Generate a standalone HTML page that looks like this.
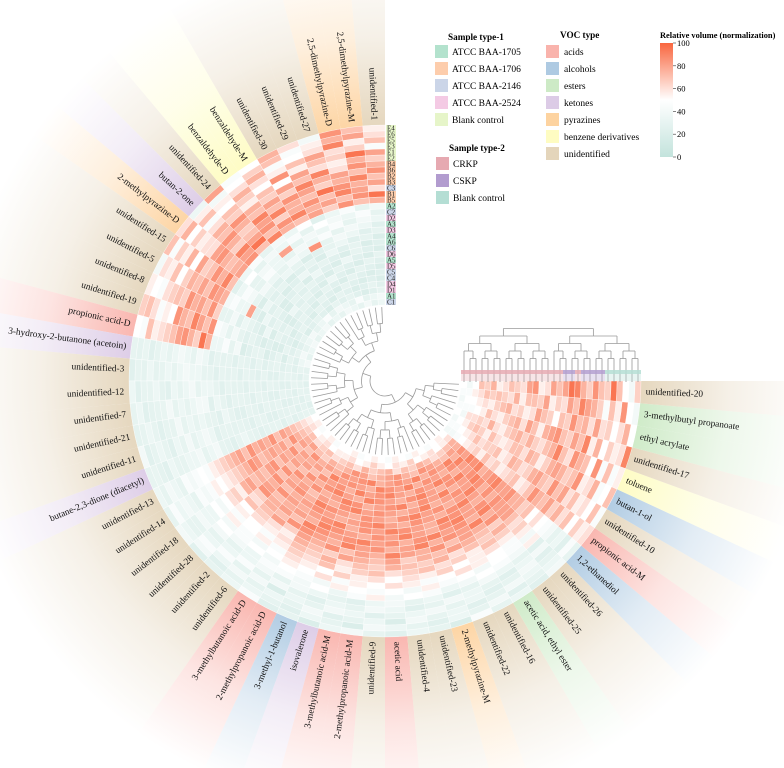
<!DOCTYPE html>
<html><head><meta charset="utf-8"><title>Circular heatmap</title>
<style>
html,body{margin:0;padding:0;background:#fff;width:784px;height:768px;overflow:hidden;}
svg{display:block;font-family:"Liberation Serif",serif;overflow:hidden;}
</style></head>
<body>
<svg id="chart" width="784" height="768" viewBox="0 0 784 768" xmlns="http://www.w3.org/2000/svg">
<defs id="defs"><clipPath id="frameclip"><rect x="0" y="0" width="784" height="768"/></clipPath></defs>
<g id="wedges" clip-path="url(#frameclip)"></g>
<g id="cells"></g>
<g id="labels"></g>
<g id="coldendro"></g>
<g id="rowdendro"></g>
<g id="samplelabels"></g>
<g id="legend">
  <text x="448" y="40" font-size="9.2" font-weight="bold">Sample type-1</text>
  <rect x="435" y="45" width="13" height="13" fill="#b3e2cd"/>
  <text x="452" y="55" font-size="9.5">ATCC BAA-1705</text>
  <rect x="435" y="62" width="13" height="13" fill="#fdcdac"/>
  <text x="452" y="72" font-size="9.5">ATCC BAA-1706</text>
  <rect x="435" y="79" width="13" height="13" fill="#cbd5e8"/>
  <text x="452" y="89" font-size="9.5">ATCC BAA-2146</text>
  <rect x="435" y="96" width="13" height="13" fill="#f4cae4"/>
  <text x="452" y="106" font-size="9.5">ATCC BAA-2524</text>
  <rect x="435" y="113" width="13" height="13" fill="#e6f5c9"/>
  <text x="452" y="123" font-size="9.5">Blank control</text>

  <text x="449" y="151" font-size="9.2" font-weight="bold">Sample type-2</text>
  <rect x="436" y="157" width="13" height="13" fill="#e6a9b1"/>
  <text x="453" y="167" font-size="9.5">CRKP</text>
  <rect x="436" y="174" width="13" height="13" fill="#b29ccf"/>
  <text x="453" y="184" font-size="9.5">CSKP</text>
  <rect x="436" y="191" width="13" height="13" fill="#b4ded4"/>
  <text x="453" y="201" font-size="9.5">Blank control</text>

  <text x="560" y="38" font-size="9.2" font-weight="bold">VOC type</text>
  <g id="voclegend"></g>

  <text x="660" y="38" font-size="8.4" font-weight="bold">Relative volume (normalization)</text>
  <rect x="660" y="43" width="13" height="114" fill="url(#cbgrad)"/>
  <g id="cbticks"></g>
</g>
</svg>
<script>
// ---------- data ----------
const vocNames = ["unidentified-1","2,5-dimethylpyrazine-M","2,5-dimethylpyrazine-D","unidentified-27","unidentified-29","unidentified-30","benzaldehyde-M","benzaldehyde-D","unidentified-24","butan-2-one","2-methylpyrazine-D","unidentified-15","unidentified-5","unidentified-8","unidentified-19","propionic acid-D","3-hydroxy-2-butanone (acetoin)","unidentified-3","unidentified-12","unidentified-7","unidentified-21","unidentified-11","butane-2,3-dione (diacetyl)","unidentified-13","unidentified-14","unidentified-18","unidentified-28","unidentified-2","unidentified-6","3-methylbutanoic acid-D","2-methylpropanoic acid-D","3-methyl-1-butanol","isovalerone","3-methylbutanoic acid-M","2-methylpropanoic acid-M","unidentified-9","acetic acid","unidentified-4","unidentified-23","2-methylpyrazine-M","unidentified-22","unidentified-16","acetic acid, ethyl ester","unidentified-25","unidentified-26","1,2-ethanediol","propionic acid-M","unidentified-10","butan-1-ol","toluene","unidentified-17","ethyl acrylate","3-methylbutyl propanoate","unidentified-20"];
const vocTypes = ["U","P","P","U","U","U","B","B","U","K","P","U","U","U","U","A","K","U","U","U","U","U","K","U","U","U","U","U","U","A","A","L","K","A","A","U","A","U","U","P","U","U","E","U","U","L","A","U","L","B","U","E","E","U"];
const sampleNames = ["E4","E6","E5","E3","E1","E2","B4","B6","B2","B3","C3","B1","B5","A2","C2","D2","A3","D3","A4","A6","C6","D6","A5","D5","C5","C4","D4","D1","A1","C1"];
const sampleType2 = ["blank","blank","blank","blank","blank","blank","CSKP","CSKP","CSKP","CSKP","CRKP","CSKP","CSKP","CRKP","CRKP","CRKP","CRKP","CRKP","CRKP","CRKP","CRKP","CRKP","CRKP","CRKP","CRKP","CRKP","CRKP","CRKP","CRKP","CRKP"];
const colorTicks = [0,20,40,60,80,100];
const values = [
[55,70,85,40,60,75,50,45,80,35,60,70,40,55,65,50, 30,25,35,30,28,40,30, 35,30,40,25,30,35,45, 25,30,20,35,40,30,25,35,30,20,45,30,35,25,40,30, 60,45,70,55,90,50,40,65],
[60,80,75,55,45,70,65,50,40,55,75,45,60,50,70,45, 28,30,25,35,30,25,32, 30,45,35,40,25,30,35, 30,25,35,30,20,40,35,30,25,35,30,40,25,30,35,45, 55,70,50,45,60,75,50,40],
[70,55,90,60,50,45,75,60,55,70,50,65,55,45,60,70, 32,28,30,25,35,30,28, 40,35,30,45,35,40,30, 35,30,40,25,30,35,20,40,30,35,25,30,40,35,30,25, 65,50,45,70,55,60,85,50],
[45,65,60,80,70,55,60,75,50,45,65,55,70,60,45,55, 25,35,30,28,30,35,25, 35,40,30,35,45,30,40, 20,35,30,40,35,25,30,35,40,30,35,25,30,40,25,35, 50,60,75,45,65,50,55,70],
[80,95,65,70,55,85,50,65,70,60,55,75,50,65,55,60, 30,28,35,30,25,30,35, 30,35,40,30,35,45,30, 40,30,25,35,30,40,35,25,30,40,35,30,25,35,40,30, 70,55,60,85,50,65,70,95],
[65,75,55,60,80,50,70,55,65,75,60,50,65,70,50,65, 35,30,28,32,30,25,30, 45,30,35,40,30,35,40, 30,40,35,30,25,35,40,30,35,25,30,40,35,30,25,40, 60,70,55,50,75,60,45,65],
[75,85,60,90,70,80,65,75,85,70,60,80,75,65,85,70, 30,35,25,40,30,35,30, 40,45,35,50,40,35,45, 45,40,50,35,45,55,40,50,45,35,40,50,45,40,55,45, 75,60,85,70,55,80,65,70],
[85,70,80,75,90,65,80,70,75,85,80,65,70,85,75,80, 35,30,35,30,40,30,35, 45,40,50,40,45,50,40, 50,45,40,55,50,45,50,40,55,45,50,40,50,45,40,50, 65,80,70,75,90,60,75,85],
[70,90,75,65,80,85,70,90,65,75,85,70,80,75,70,85, 40,35,30,35,30,40,35, 50,45,40,55,45,40,50, 55,50,60,45,55,50,60,55,45,50,60,55,50,45,55,60, 80,70,65,85,70,75,80,65],
[80,75,85,95,70,75,90,80,70,65,75,85,70,80,90,75, 35,40,35,30,35,30,40, 45,55,50,45,50,55,45, 60,55,50,65,55,60,50,60,55,65,50,55,60,55,65,50, 70,85,75,60,80,70,90,75],
[60,80,90,70,85,75,65,85,80,90,70,75,85,70,80,65, 30,35,40,35,30,35,30, 55,50,60,55,50,45,55, 65,60,70,55,65,70,60,65,70,60,65,55,70,65,60,70, 75,65,80,70,65,85,70,90],
[95,85,70,80,75,90,85,70,95,80,75,90,80,85,70,95, 40,35,30,40,35,40,35, 60,55,65,50,60,55,60, 70,65,75,60,70,65,75,70,65,75,60,70,65,75,70,65, 85,70,75,90,70,65,80,95],
[75,70,85,65,80,70,75,90,70,85,80,70,75,65,85,75, 35,30,35,40,30,35,40, 65,60,55,70,65,60,55, 75,70,65,80,75,70,80,65,75,70,80,75,70,65,80,75, 70,80,65,75,85,70,60,80],
[40,30,45,35,25,50,35,40,30,45,35,25,40,30,45,35, 25,30,35,25,30,25,30, 70,65,75,60,70,80,65, 80,75,85,70,80,75,90,80,75,85,70,80,75,85,80,75, 60,75,55,70,80,50,65,70],
[30,45,35,40,50,30,45,35,40,30,50,35,45,30,40,35, 30,25,30,35,25,30,28, 75,70,80,65,75,70,85, 85,80,75,90,80,85,75,80,90,75,85,80,90,75,80,85, 55,65,70,60,75,65,55,80],
[35,40,30,45,35,40,30,80,35,40,30,45,35,40,30,45, 28,30,25,30,35,30,25, 80,75,70,85,75,80,70, 90,85,80,85,90,80,85,75,85,90,80,85,75,90,85,80, 70,60,75,65,55,70,80,60],
[25,35,40,30,45,35,40,30,35,45,30,40,35,25,40,30, 30,28,30,25,30,28,30, 70,85,75,80,70,75,80, 75,90,85,80,75,85,80,90,80,75,85,90,80,85,75,80, 65,70,60,75,70,80,65,55],
[30,25,35,40,30,85,35,40,30,35,40,30,80,35,30,40, 25,30,28,30,25,30,35, 85,80,70,75,85,80,75, 80,85,90,75,85,80,90,85,80,75,90,85,80,75,85,90, 60,75,70,65,80,60,70,85],
[20,30,25,35,30,25,20,30,35,25,30,20,25,30,25,20, 30,25,28,30,25,28,30, 75,70,80,85,70,75,80, 85,80,75,80,85,90,80,75,85,80,75,85,90,80,75,85, 55,60,70,75,60,55,70,80],
[25,20,30,25,35,20,30,25,20,30,25,35,20,25,30,25, 28,30,25,28,30,25,28, 80,75,85,70,80,85,75, 90,85,80,75,85,80,75,85,90,80,85,75,80,90,85,80, 65,55,60,70,75,65,55,60],
[20,25,30,20,25,30,25,35,25,20,30,25,35,20,25,30, 25,28,30,25,28,30,25, 75,80,70,85,75,80,70, 80,75,85,90,80,85,80,75,80,90,75,80,85,80,90,75, 60,70,55,65,70,60,75,65],
[30,20,25,35,20,25,35,20,30,25,20,30,25,35,20,30, 30,25,28,30,25,30,28, 85,75,80,70,85,75,85, 75,80,90,85,75,80,85,90,75,85,80,90,75,80,85,90, 70,65,60,55,65,75,60,70],
[25,30,20,25,30,20,25,30,25,30,20,25,30,20,25,20, 25,30,25,28,30,25,30, 70,80,75,80,70,85,75, 85,90,80,75,90,85,80,75,85,90,80,75,85,90,80,85, 55,65,70,60,55,70,65,60],
[20,25,30,20,25,35,20,25,30,25,35,20,25,30,20,25, 28,25,30,25,28,25,30, 80,70,85,75,80,70,85, 80,85,75,90,80,85,90,80,75,85,80,90,85,75,80,90, 65,60,55,75,60,65,70,55],
[25,20,25,30,20,25,30,20,25,30,25,20,30,25,20,30, 30,25,28,25,30,28,25, 75,85,70,80,75,80,70, 90,80,85,80,75,90,85,80,90,75,85,80,75,85,90,80, 60,70,65,60,70,55,65,75],
[20,25,20,25,30,20,25,30,20,25,30,25,20,25,30,20, 25,28,25,30,25,28,30, 70,75,80,70,85,75,80, 75,85,80,85,90,75,80,85,80,90,75,85,80,90,75,85, 55,60,70,65,55,60,70,65],
[25,30,25,20,25,30,20,25,30,20,25,30,25,20,25,30, 28,30,25,28,25,30,25, 65,70,75,80,70,65,75, 70,75,85,80,70,75,80,85,75,70,85,80,75,70,80,75, 50,55,65,60,50,55,60,70],
[30,25,20,25,30,25,30,20,25,30,25,20,30,25,30,25, 25,28,30,25,28,25,28, 60,65,70,60,65,70,60, 65,70,60,75,65,70,75,60,70,65,75,70,60,65,70,75, 45,50,55,60,45,50,55,50],
[40,35,30,45,30,35,40,30,45,35,30,40,35,30,40,35, 30,25,28,30,25,28,30, 55,60,50,55,60,50,55, 55,60,50,55,65,55,50,60,55,65,50,55,60,50,55,60, 40,45,50,40,45,50,45,40],
[35,30,40,30,35,40,30,35,30,40,35,30,40,35,30,40, 28,30,25,28,30,25,28, 50,55,45,50,55,45,50, 50,55,45,50,55,50,45,55,50,45,55,50,45,50,55,50, 40,45,40,50,45,40,45,50]
];
// ---------- styling maps ----------
const typeColor = {A:"#f9b3ac",L:"#aecae2",E:"#cdeac6",K:"#dccbe6",P:"#fdd3a0",B:"#fefcc2",U:"#e4d5bb"};
const vocLegend = [["A","acids"],["L","alcohols"],["E","esters"],["K","ketones"],["P","pyrazines"],["B","benzene derivatives"],["U","unidentified"]];
const type1Color = {A:"#b3e2cd",B:"#fdcdac",C:"#cbd5e8",D:"#f4cae4",E:"#e6f5c9"};
const type2Color = {CRKP:"#e6a9b1",CSKP:"#b29ccf",blank:"#b4ded4"};
const NS="http://www.w3.org/2000/svg";
const cx=385, cy=381, R0=256, ringW=6, angStep=5, rInnerLeaf=74;
function el(tag,attrs,parent){const e=document.createElementNS(NS,tag);for(const k in attrs)e.setAttribute(k,attrs[k]);if(parent)parent.appendChild(e);return e;}
function angleOf(i){return 90+i*angStep;}
function pt(r,a){const t=a*Math.PI/180;return [cx+r*Math.cos(t),cy-r*Math.sin(t)];}
function sector(r1,r2,a1,a2){const [x1,y1]=pt(r2,a1),[x2,y2]=pt(r2,a2),[x3,y3]=pt(r1,a2),[x4,y4]=pt(r1,a1);const lg=(a2-a1)>180?1:0;return `M${x1.toFixed(2)},${y1.toFixed(2)} A${r2},${r2} 0 ${lg} 0 ${x2.toFixed(2)},${y2.toFixed(2)} L${x3.toFixed(2)},${y3.toFixed(2)} A${r1},${r1} 0 ${lg} 1 ${x4.toFixed(2)},${y4.toFixed(2)} Z`;}
function hex(c){return [parseInt(c.slice(1,3),16),parseInt(c.slice(3,5),16),parseInt(c.slice(5,7),16)];}
const lowC=hex("#c3e3dc"), midC=hex("#ffffff"), highC=hex("#f9663f");
function colorScale(v){let a,b,t;if(v<50){a=lowC;b=midC;t=v/50;}else{a=midC;b=highC;t=(v-50)/50;}t=Math.max(0,Math.min(1,t));return `rgb(${a.map((x,i)=>Math.round(x+(b[i]-x)*t)).join(",")})`;}
const defs=document.getElementById("defs");
for(const k in typeColor){
  const g=el("radialGradient",{id:"wg"+k,gradientUnits:"userSpaceOnUse",cx:cx,cy:cy,r:430},defs);
  el("stop",{offset:(R0/430).toFixed(3),"stop-color":typeColor[k],"stop-opacity":"0.95"},g);
  el("stop",{offset:"0.8","stop-color":typeColor[k],"stop-opacity":"0.35"},g);
  el("stop",{offset:"1","stop-color":typeColor[k],"stop-opacity":"0"},g);
}
const cb=el("linearGradient",{id:"cbgrad",x1:0,y1:1,x2:0,y2:0},defs);
[0,25,50,75,100].forEach(v=>el("stop",{offset:v+"%","stop-color":colorScale(v)},cb));
const wedges=document.getElementById("wedges"), labels=document.getElementById("labels");
vocNames.forEach((name,i)=>{
  const a1=angleOf(i), a2=angleOf(i+1), am=(a1+a2)/2;
  const w=el("path",{d:sector(R0,430,a1,a2),fill:`url(#wg${vocTypes[i]})`},wedges);
  
  
  const [x,y]=pt(261,am);
  const left = am>90 && am<270;
  const rot = left ? 180-am : -am;
  const t=el("text",{x:x.toFixed(2),y:y.toFixed(2),"font-size":"9.3","text-anchor":left?"end":"start","dominant-baseline":"central",transform:`rotate(${rot.toFixed(2)} ${x.toFixed(2)} ${y.toFixed(2)})`,fill:"#111"},labels);
  t.textContent=name;
  
  
});
const cells=document.getElementById("cells");
values.forEach((row,k)=>{
  const r2=R0-k*ringW, r1=r2-ringW;
  vocNames.forEach((n,i)=>{
    const c=el("path",{d:sector(r1,r2,angleOf(i),angleOf(i+1)),fill:colorScale(row[i]),stroke:"#fff","stroke-width":"0.35"},cells);
    
    
  });
});
const cd=document.getElementById("coldendro");
function build(lo,hi){if(lo===hi)return {a:angleOf(lo)+angStep/2,h:0};const m=Math.floor((lo+hi)/2);const l=build(lo,m),r=build(m+1,hi);return {l,r,a:(l.a+r.a)/2,h:Math.max(l.h,r.h)+1};}
const ctree=build(0,vocNames.length-1);
function rad(n){return n.h===0?rInnerLeaf:rInnerLeaf-8-n.h*8.5;}
function drawC(n){if(n.h===0)return;const rp=rad(n);[n.l,n.r].forEach(ch=>{const rc=rad(ch);const [x1,y1]=pt(rp,ch.a),[x2,y2]=pt(rc,ch.a);const ln=el("line",{x1,y1,x2,y2,stroke:"#9a9a9a","stroke-width":"0.8"},cd);drawC(ch);});
 const [ax,ay]=pt(rp,n.l.a),[bx,by]=pt(rp,n.r.a);const lg=(n.r.a-n.l.a)>180?1:0;const p=el("path",{d:`M${ax},${ay} A${rp},${rp} 0 ${lg} 0 ${bx},${by}`,fill:"none",stroke:"#9a9a9a","stroke-width":"0.8"},cd);}
drawC(ctree);
const rd=document.getElementById("rowdendro");
const nS=sampleNames.length, x0=cx+R0-nS*ringW, leafY=372;
function xOfRing(k){return x0+(nS-1-k)*ringW+ringW/2;}
function buildR(lo,hi){if(lo===hi)return {x:xOfRing(lo),h:0};const m=Math.floor((lo+hi)/2);const l=buildR(lo,m),r=buildR(m+1,hi);return {l,r,x:(l.x+r.x)/2,h:Math.max(l.h,r.h)+1};}
const rtree=buildR(0,nS-1);
function yOf(n){return n.h===0?leafY+10:leafY-6-n.h*7.5;}
function drawR(n){if(n.h===0)return;const yp=yOf(n);[n.l,n.r].forEach(ch=>{const ln=el("line",{x1:ch.x,y1:yp,x2:ch.x,y2:yOf(ch),stroke:"#9a9a9a","stroke-width":"0.8"},rd);drawR(ch);});const hl=el("line",{x1:n.l.x,y1:yp,x2:n.r.x,y2:yp,stroke:"#9a9a9a","stroke-width":"0.8"},rd);}
drawR(rtree);
sampleNames.forEach((s,k)=>{
  const x=xOfRing(k)-ringW/2;
  const a=el("rect",{x,y:leafY-2,width:ringW,height:4,fill:type2Color[sampleType2[k]],opacity:"0.85"},rd);
  
  
  const b=el("rect",{x,y:leafY+2,width:ringW,height:7,fill:type2Color[sampleType2[k]],opacity:"0.3"},rd);
  
  
});
const sl=document.getElementById("samplelabels");
sampleNames.forEach((s,k)=>{
  const yc=cy-(R0-k*ringW-ringW/2);
  const r=el("rect",{x:cx+1,y:yc-3,width:10,height:6,fill:type1Color[s[0]]},sl);
  
  
  const t=el("text",{x:cx+2,y:yc+0.3,"font-size":"7","dominant-baseline":"central",fill:"#222"},sl);
  t.textContent=s;
  
  
});
const vl=document.getElementById("voclegend");
vocLegend.forEach(([k,lab],j)=>{
  const y=45+j*17;
  const r=el("rect",{x:546,y,width:13,height:13,fill:typeColor[k]},vl);
  
  
  const t=el("text",{x:564,y:y+10,"font-size":"9.5"},vl);
  t.textContent=lab;
  
  
});
const ct=document.getElementById("cbticks");
colorTicks.forEach(v=>{
  const y=157-v/100*114;
  const l=el("line",{x1:673,y1:y,x2:676,y2:y,stroke:"#333","stroke-width":"0.6"},ct);
  
  
  const t=el("text",{x:677,y:y+3,"font-size":"8.5"},ct);
  t.textContent=v;
  
  
});
</script>
</body></html>
